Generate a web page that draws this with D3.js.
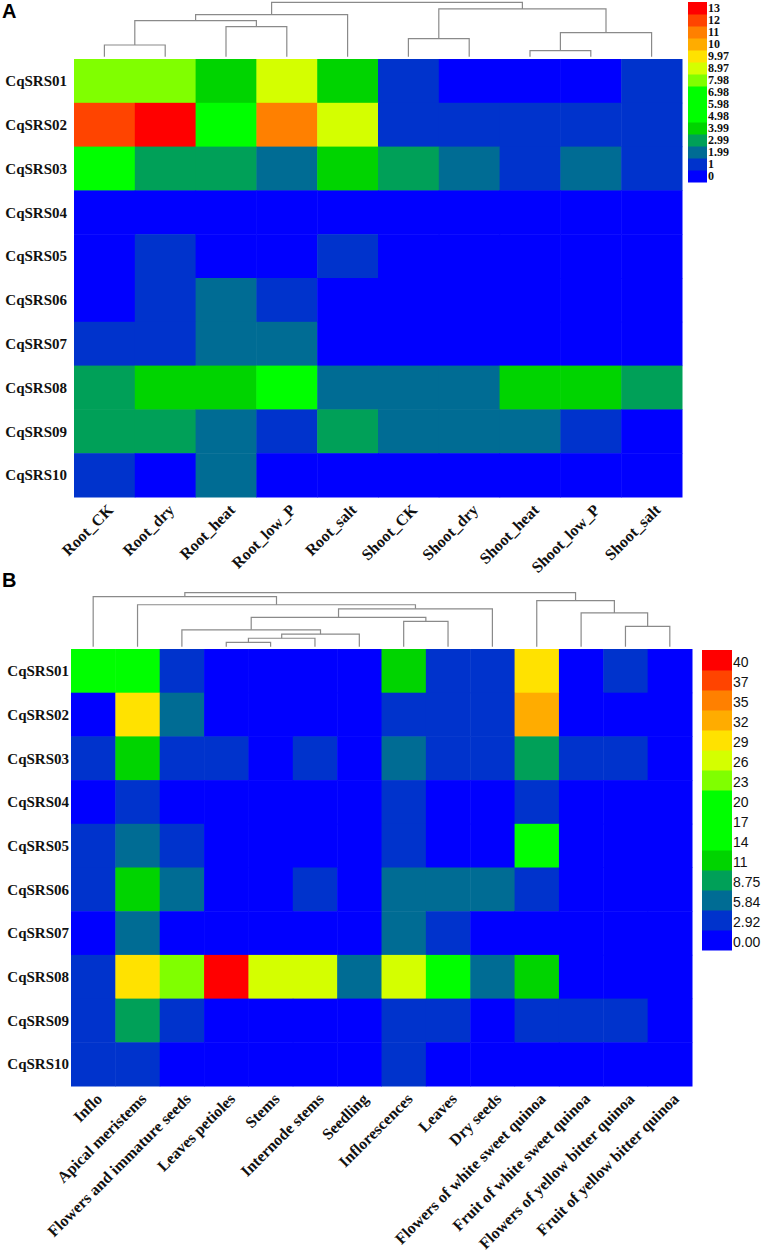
<!DOCTYPE html>
<html>
<head>
<meta charset="utf-8">
<script src="https://cdn.jsdelivr.net/npm/d3@7"></script>
<style>
  body { margin: 0; background: #fff; }
  .dendro path { fill: none; stroke: #8a8a8a; stroke-width: 1.2; }
  .rowlab { font-family: "Liberation Serif", "Times New Roman", serif; font-weight: bold; font-size: 15px; fill: #111; }
  .collab { font-family: "Liberation Serif", "Times New Roman", serif; font-weight: bold; font-size: 16px; fill: #111; }
  .legA { font-family: "Liberation Serif", "Times New Roman", serif; font-weight: bold; font-size: 12px; fill: #111; }
  .legB { font-family: "Liberation Sans", Arial, sans-serif; font-size: 14px; fill: #111; }
  .panel { font-family: "Liberation Sans", Arial, sans-serif; font-weight: bold; font-size: 20px; }
</style>
</head>
<body>
<svg id="fig" width="761" height="1256"></svg>
<script>
// ---- data ----
var genes = ["CqSRS01","CqSRS02","CqSRS03","CqSRS04","CqSRS05","CqSRS06","CqSRS07","CqSRS08","CqSRS09","CqSRS10"];

var condA = ["Root_CK","Root_dry","Root_heat","Root_low_P","Root_salt","Shoot_CK","Shoot_dry","Shoot_heat","Shoot_low_P","Shoot_salt"];
var valuesA = [
  [8.4, 8.6, 4.6, 9.3, 4.4, 1.3, 0.4, 0.3, 0.5, 1.2],
  [12.3, 13.2, 6.1, 11.4, 9.2, 1.5, 1.3, 1.1, 1.2, 1.4],
  [6.4, 3.3, 3.5, 2.6, 4.3, 3.2, 2.4, 1.6, 2.2, 1.5],
  [0.2, 0.3, 0.1, 0.2, 0.3, 0.1, 0.1, 0.2, 0.1, 0.2],
  [0.6, 1.2, 0.5, 0.4, 1.1, 0.3, 0.2, 0.1, 0.2, 0.3],
  [0.5, 1.3, 2.4, 1.1, 0.4, 0.2, 0.1, 0.2, 0.1, 0.2],
  [1.2, 1.4, 2.3, 2.5, 0.6, 0.3, 0.2, 0.1, 0.2, 0.1],
  [3.3, 4.6, 4.4, 5.6, 2.7, 2.4, 2.6, 4.2, 4.5, 3.4],
  [3.2, 3.5, 2.3, 1.4, 3.6, 2.5, 2.4, 2.2, 1.3, 0.7],
  [1.1, 0.6, 2.2, 0.4, 0.3, 0.2, 0.3, 0.1, 0.2, 0.2]
];
// column tree (R hclust style: negative = leaf, positive = earlier merge), with heights
var mergeA = [[-8,-9,18],[-1,-2,35],[-6,-7,54],[1,-10,72],[-3,-4,90],[2,5,108],[6,-5,126],[3,4,143],[7,8,163]];
var legendA = [0, 1, 1.99, 2.99, 3.99, 4.98, 5.98, 6.98, 7.98, 8.97, 9.97, 10, 11, 12, 13];
var breaksA = [1, 1.99, 2.99, 3.99, 4.98, 7.98, 8.97, 9.97, 10, 11, 12, 13];

var tissueB = ["Inflo","Apical meristems","Flowers and immature seeds","Leaves petioles","Stems","Internode stems","Seedling","Inflorescences","Leaves","Dry seeds","Flowers of white sweet quinoa","Fruit of white sweet quinoa","Flowers of yellow bitter quinoa","Fruit of yellow bitter quinoa"];
var valuesB = [
  [17.8, 18.6, 4.1, 0.6, 0.4, 0.3, 0.5, 12.6, 3.9, 3.5, 30.4, 1.2, 3.3, 0.8],
  [1.5, 30.8, 7.2, 0.5, 0.3, 0.6, 0.4, 4.4, 3.8, 3.6, 33.7, 1.1, 0.9, 0.5],
  [3.8, 12.9, 4.5, 3.4, 0.7, 3.1, 0.9, 7.4, 4.2, 3.9, 10.1, 4.6, 3.2, 0.6],
  [0.4, 3.6, 0.3, 0.2, 0.1, 0.3, 0.2, 4.0, 0.5, 0.8, 3.5, 0.6, 0.4, 0.2],
  [3.3, 7.0, 4.3, 0.5, 0.3, 0.4, 0.6, 3.7, 1.1, 0.9, 16.5, 0.7, 0.5, 0.3],
  [3.5, 12.2, 6.6, 0.8, 0.4, 3.2, 0.5, 7.6, 6.9, 7.3, 4.1, 1.0, 0.6, 0.4],
  [1.2, 7.8, 0.9, 0.4, 0.2, 0.6, 0.3, 6.5, 3.4, 1.3, 0.8, 0.5, 0.3, 0.2],
  [4.6, 30.2, 24.7, 40.6, 27.4, 27.9, 7.7, 27.1, 18.9, 6.8, 12.4, 1.4, 0.9, 0.6],
  [3.9, 9.6, 3.5, 0.6, 0.4, 0.3, 0.8, 4.3, 3.6, 1.5, 3.4, 3.8, 3.1, 0.7],
  [3.2, 3.7, 0.5, 0.3, 0.2, 0.4, 0.6, 3.9, 0.8, 0.5, 0.4, 0.3, 0.2, 0.1]
];
var mergeB = [[-4,-5,13],[1,-6,25],[2,-7,37],[-3,3,50],[-13,-14,60],[-8,-9,75],[4,6,87],[-12,5,100],[7,-10,112],[-2,9,124],[-11,8,136],[-1,10,148],[12,11,160]];
var legendB = [0, 2.92, 5.84, 8.75, 11, 14, 17, 20, 23, 26, 29, 32, 35, 37, 40];
var breaksB = [2.92, 5.84, 8.75, 11, 14, 23, 26, 29, 32, 35, 37, 40];

var palette = ["#0000ff","#0033cc","#006c94","#00a058","#00d400","#00ff00","#80ff00","#d4ff00","#ffe200","#ffac00","#ff8000","#ff4400","#ff0000"];

var svg = d3.select("#fig");

function heatPanel(o) {
    var g = svg.append("g");
    var color = d3.scaleThreshold().domain(o.breaks).range(palette);
    var x = d3.scaleBand().domain(d3.range(o.cols.length)).range([o.left, o.right]);
    var y = d3.scaleBand().domain(d3.range(genes.length)).range([o.top, o.bottom]);

    // cells
    var cells = [];
    o.values.forEach(function(row, i) { row.forEach(function(v, j) { cells.push({r: i, c: j, v: v}); }); });
    g.append("g").selectAll("rect").data(cells).join("rect")
        .attr("x", d => x(d.c)).attr("y", d => y(d.r))
        .attr("width", x.bandwidth() + 0.5).attr("height", y.bandwidth() + 0.5)
        .attr("fill", d => color(d.v));

    // row labels
    g.append("g").selectAll("text").data(genes).join("text").attr("class", "rowlab")
        .attr("x", o.left - o.rowPad).attr("y", (d, i) => y(i) + y.bandwidth() / 2)
        .attr("dy", "0.35em").attr("text-anchor", "end").text(d => d);

    // column labels, rotated
    g.append("g").selectAll("text").data(o.cols).join("text").attr("class", "collab")
        .attr("text-anchor", "end")
        .attr("transform", (d, i) => `translate(${x(i) + x.bandwidth() / 2 + 6},${o.bottom + 10}) rotate(-45)`)
        .attr("dy", "0.35em").text(d => d);

    // dendrogram over columns
    var hmax = d3.max(o.merge, m => m[2]);
    var h = d3.scaleLinear().domain([0, hmax]).range([o.top - 2.3, o.dTop]);
    var nodes = [];
    function pos(k) {
        if (k < 0) return {x: x(-k - 1) + x.bandwidth() / 2, h: 0};
        return nodes[k - 1];
    }
    var dg = g.append("g").attr("class", "dendro");
    o.merge.forEach(function(m) {
        var a = pos(m[0]), b = pos(m[1]);
        dg.append("path").attr("d", `M${a.x},${h(a.h)}V${h(m[2])}H${b.x}V${h(b.h)}`);
        nodes.push({x: (a.x + b.x) / 2, h: m[2]});
    });

    // legend
    var ly = d3.scaleBand().domain(o.legend.slice().reverse()).range([o.legTop, o.legBottom]);
    var lg = g.append("g");
    lg.selectAll("rect").data(o.legend).join("rect")
        .attr("x", o.legX).attr("y", d => ly(d)).attr("width", o.legW).attr("height", ly.bandwidth() + 0.5)
        .attr("fill", d => color(d));
    lg.selectAll("text").data(o.legend).join("text").attr("class", o.legClass)
        .attr("x", o.legX + o.legW + 1).attr("y", d => ly(d) + ly.bandwidth() / 2 + o.legDy)
        .attr("dy", "0.35em").text(d => o.fmt(d));

    svg.append("text").attr("class", "panel").attr("x", 2).attr("y", o.letterY).text(o.letter);
}

heatPanel({
    letter: "A", letterY: 18,
    cols: condA, values: valuesA, merge: mergeA, breaks: breaksA, legend: legendA,
    left: 74, right: 682, top: 59, bottom: 497, dTop: 2.3, rowPad: 7,
    legX: 688, legW: 19, legTop: 2, legBottom: 182, legClass: "legA", legDy: 0,
    fmt: d => String(d)
});

heatPanel({
    letter: "B", letterY: 587,
    cols: tissueB, values: valuesB, merge: mergeB, breaks: breaksB, legend: legendB,
    left: 71, right: 692, top: 649, bottom: 1086, dTop: 592.6, rowPad: 2,
    legX: 702, legW: 30, legTop: 650, legBottom: 950, legClass: "legB", legDy: 2,
    fmt: d => (d < 1 ? d.toFixed(2) : String(d))
});
</script>
</body>
</html>
